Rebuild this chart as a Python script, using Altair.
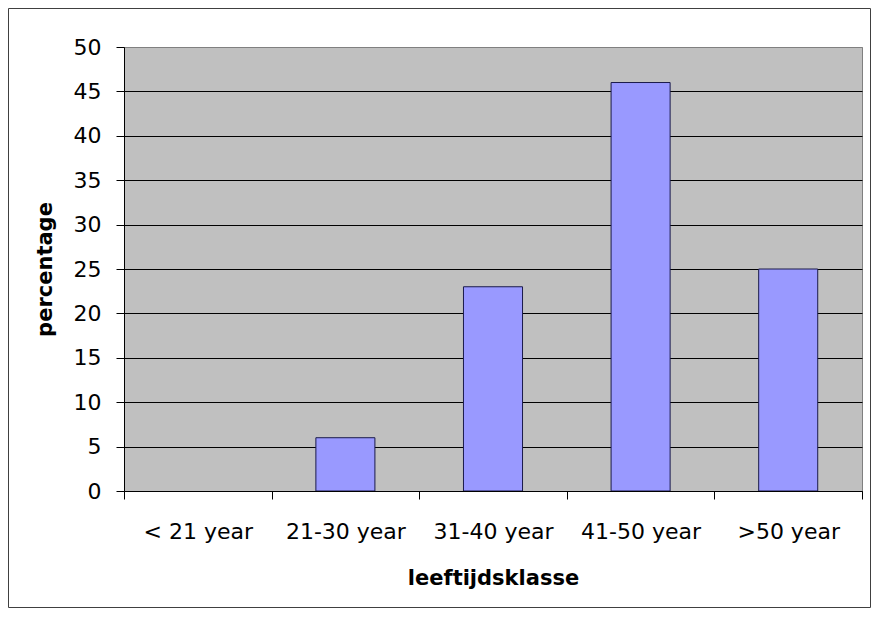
import altair as alt
import pandas as pd

categories = ["< 21 year", "21-30 year", "31-40 year", "41-50 year", ">50 year"]
percentages = [0, 6, 23, 46, 25]
y_ticks = [0, 5, 10, 15, 20, 25, 30, 35, 40, 45, 50]

df = pd.DataFrame({"klasse": categories, "percentage": percentages})
frame_df = pd.DataFrame({"k": [0]})

FONT = "DejaVu Sans"

x_enc = alt.X(
    "klasse:N",
    sort=categories,
    title="leeftijdsklasse",
    scale=alt.Scale(paddingInner=0, paddingOuter=0),
    axis=alt.Axis(
        labelAngle=0,
        tickBand="extent",
        tickSize=8,
        labelPadding=22,
        labelFont=FONT,
        labelFontSize=22,
        labelColor="black",
        domainColor="black",
        tickColor="black",
        titleFont=FONT,
        titleFontSize=21,
        titleFontWeight="bold",
        titleColor="black",
        titleBaseline="alphabetic",
        titleY=93,
        grid=False,
        zindex=1,
    ),
)

y_enc = alt.Y(
    "percentage:Q",
    title="percentage",
    scale=alt.Scale(domain=[0, 50], nice=False),
    axis=alt.Axis(
        values=y_ticks,
        grid=True,
        gridColor={"condition": {"test": "datum.value === 50", "value": "#808080"}, "value": "black"},
        gridWidth=1,
        tickSize=8,
        labelPadding=15,
        labelFont=FONT,
        labelFontSize=22,
        labelColor="black",
        domainColor="black",
        tickColor="black",
        titleFont=FONT,
        titleFontSize=21,
        titleFontWeight="bold",
        titleColor="black",
        titleBaseline="alphabetic",
        titleX=-73,
        titleY=222,
        titleAngle=270,
    ),
)

bars = alt.Chart(df).mark_bar(
    width=alt.RelativeBandSize(0.4),
    color="#9999FF",
    stroke="#1a1a4a",
    strokeWidth=1,
).encode(
    x=x_enc,
    y=y_enc,
    strokeOpacity=alt.condition("datum.percentage === 0", alt.value(0), alt.value(1)),
)

frame = alt.Chart(frame_df).mark_rect(
    filled=False, stroke="#404040", strokeWidth=1
).encode(
    x=alt.value(-115.5),
    x2=alt.value(746.5),
    y=alt.value(-38.5),
    y2=alt.value(560.5),
)

chart = alt.layer(bars, frame).properties(
    width=738,
    height=444,
    autosize=alt.AutoSizeParams(type="none"),
    padding={"left": 116, "top": 39, "right": 9, "bottom": 117},
    background="white",
).configure_view(fill="#C0C0C0", stroke="#808080", strokeWidth=1)

chart.save("out.html", embed_options={"renderer": "svg", "actions": False})
